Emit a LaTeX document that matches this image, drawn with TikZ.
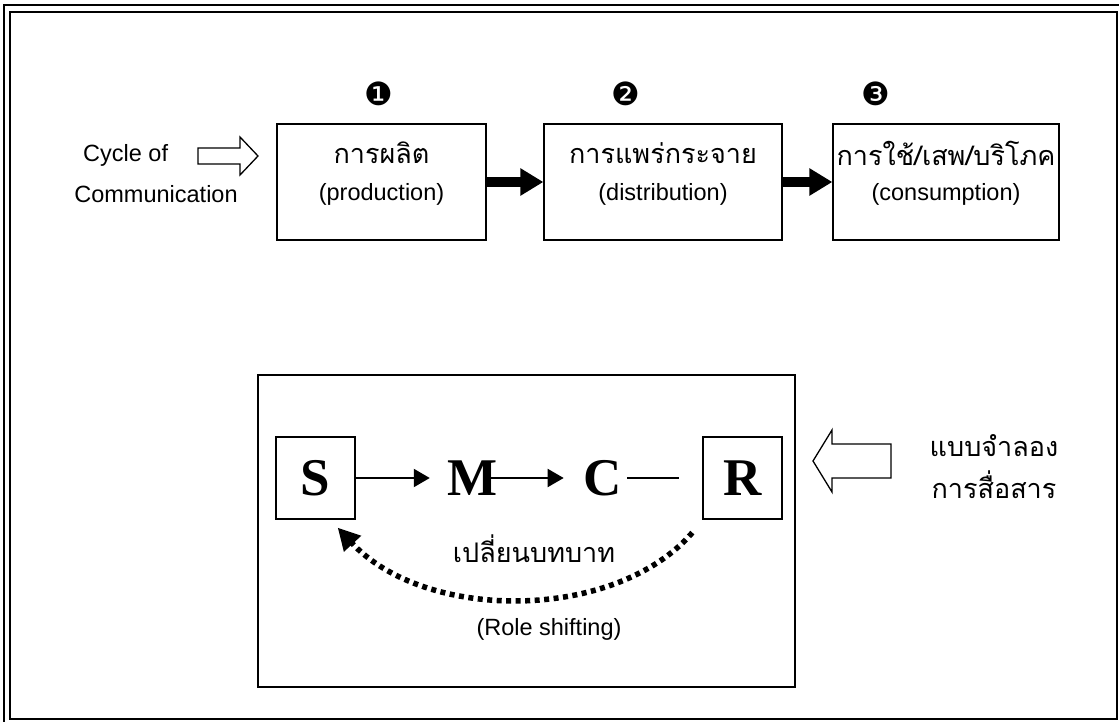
\documentclass[tikz,border=0pt]{standalone}
\usepackage{fontspec}
\setmainfont{Liberation Sans}
\newfontfamily\thaifont[Script=Thai]{Loma}
\newfontfamily\tnrfont{Liberation Serif}
\newfontfamily\dvfont{DejaVu Sans}
\usetikzlibrary{arrows.meta,calc}
\tikzset{
  frameline/.style={line width=2.5pt},
  procbox/.style={draw, line width=1.3pt, minimum width=#1, minimum height=116pt, inner sep=0pt},
  thaitxt/.style={font=\thaifont\fontsize{27}{31}\selectfont, inner sep=0pt},
  engtxt/.style={font=\fontsize{23.5}{28}\selectfont, inner sep=0pt},
  numtxt/.style={font=\dvfont\fontsize{32}{36}\selectfont, inner sep=0pt},
  thickarrow/.style={line width=9.5pt, -{Triangle[length=23pt,width=26pt]}},
  hollowarrow/.style={draw, line width=1.3pt, fill=white, line join=miter},
  letterbox/.style={draw, line width=1.3pt, minimum width=79pt, minimum height=82pt, inner sep=0pt, font=\tnrfont\bfseries\fontsize{53}{57}\selectfont},
  letter/.style={inner sep=0pt, font=\tnrfont\bfseries\fontsize{53}{57}\selectfont},
  thinarrow/.style={line width=2pt, -{Triangle[length=16pt,width=18pt]}},
  thinline/.style={line width=2pt},
  dotarrow/.style={line width=5.5pt, dash pattern=on 5pt off 4.5pt, -{Triangle[length=22pt,width=22pt]}},
}
\begin{document}
\begin{tikzpicture}[x=1pt,y=-1pt]
\useasboundingbox (0,0) rectangle (1119,722);
% outer frame
\draw[frameline] (4,722) -- (4,5) -- (1119,5);
\draw[frameline] (10,12) rectangle (1117,719);

% step numbers
\node[numtxt] (n1) at (379,94) {❶};
\node[numtxt] (n2) at (626,94) {❷};
\node[numtxt] (n3) at (876,94) {❸};

% process boxes
\node[procbox=209pt] (b1) at (381.5,182) {};
\node[procbox=238pt] (b2) at (663,182) {};
\node[procbox=226pt] (b3) at (946,182) {};

\node[thaitxt] (t1) at ($(b1.center)+(0,-29)$) {การผลิต};
\node[engtxt]  (e1) at ($(b1.center)+(0,12)$) {(production)};
\node[thaitxt] (t2) at ($(b2.center)+(0,-29)$) {การแพร่กระจาย};
\node[engtxt]  (e2) at ($(b2.center)+(0,12)$) {(distribution)};
\node[thaitxt] (t3) at ($(b3.center)+(0,-29)$) {การใช้/เสพ/บริโภค};
\node[engtxt]  (e3) at ($(b3.center)+(0,12)$) {(consumption)};

\draw[thickarrow] (b1.east) -- (b2.west);
\draw[thickarrow] (b2.east) -- (b3.west);

% cycle of communication
\node[engtxt, anchor=west] (cyc) at (83,155) {Cycle of};
\node[engtxt] (com) at (156,194) {Communication};
\draw[hollowarrow] (198,148) -- (240,148) -- (240,137) -- (258,156) -- (240,175) -- (240,164) -- (198,164) -- cycle;

% SMCR model box
\node[draw, line width=1.3pt, minimum width=537pt, minimum height=312pt, inner sep=0pt] (model) at (526.5,531) {};
\node[letterbox] (S) at (315.5,478) {S};
\node[letterbox] (R) at (742.5,478) {R};
\node[letter] (M) at (473,478) {M};
\node[letter] (C) at (603,478) {C};

\draw[thinarrow, shorten >=18pt] (S.east) -- (M.west);
\draw[thinarrow] ($(M.east)+(-10,0)$) -- ($(C.west)+(-20,0)$);
\draw[thinline] ($(C.east)+(5,0)$) -- ($(R.west)+(-23,0)$);

\coordinate (ds) at ($(R.south west)+(-10,13)$);
\coordinate (de) at ($(S.south east)+(-18,8)$);
\draw[dotarrow] (ds) .. controls (615,622) and (425,622) .. (de);

\node[thaitxt] (shift) at (534,549) {เปลี่ยนบทบาท};
\node[engtxt] (role) at (549,629) {(Role shifting)};

% model label
\draw[hollowarrow] (891,444) -- (832,444) -- (832,430) -- (813,461) -- (832,492) -- (832,478) -- (891,478) -- cycle;
\node[thaitxt] (m1) at (994,446) {แบบจำลอง};
\node[thaitxt] (m2) at (994,485) {การสื่อสาร};
\end{tikzpicture}
\end{document}
